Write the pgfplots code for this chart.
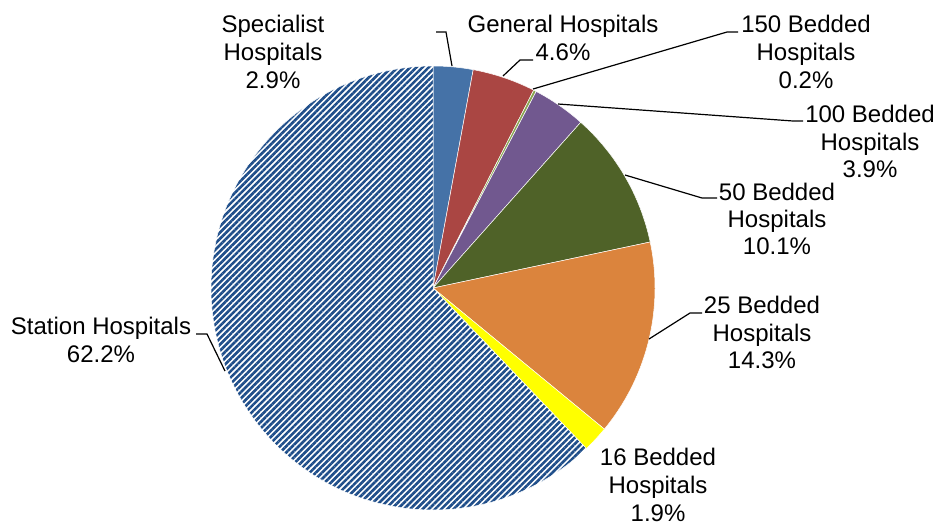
\documentclass[border=0pt]{standalone}
\usepackage{pgfplots}
\pgfplotsset{compat=1.18}
\usepackage{pgfplotstable}
\usepackage{fontspec}
\setmainfont{Liberation Sans}
\usetikzlibrary{patterns.meta}

\definecolor{cSpec}{HTML}{4572A7}
\definecolor{cGen}{HTML}{AA4643}
\definecolor{cOneFifty}{HTML}{89A54E}
\definecolor{cHundred}{HTML}{71588F}
\definecolor{cFifty}{HTML}{4F6228}
\definecolor{cTwentyFive}{HTML}{DB843D}
\definecolor{cSixteen}{HTML}{FFFF00}
\definecolor{cStation}{HTML}{1F4E8A}

\tikzset{
  pie0/.style={fill=cSpec},
  pie1/.style={fill=cGen},
  pie2/.style={fill=cOneFifty},
  pie3/.style={fill=cHundred},
  pie4/.style={fill=cFifty},
  pie5/.style={fill=cTwentyFive},
  pie6/.style={fill=cSixteen},
  pie7/.style={fill=white, pattern={Lines[angle=45, distance=2.2pt, line width=1.3pt]}, pattern color=cStation},
}

% share of beds, clockwise from 12 o'clock
\pgfplotstableread{
name        pct
Specialist  2.9
General     4.6
Bed150      0.2
Bed100      3.9
Bed50       10.1
Bed25       14.3
Bed16       1.9
Station     62.2
}\piedata

% wedge angles from the table, worked out before the axis
\pgfplotstablegetrowsof{\piedata}
\pgfmathtruncatemacro\nrows{\pgfplotsretval-1}
\gdef\pieA{90}
\foreach \i in {0,...,\nrows}{
  \pgfplotstablegetelem{\i}{pct}\of\piedata
  \pgfmathsetmacro\pieB{\pieA-\pgfplotsretval/100.1*360}
  \expandafter\xdef\csname pieStart\i\endcsname{\pieA}
  \expandafter\xdef\csname pieEnd\i\endcsname{\pieB}
  \global\let\pieA\pieB
}

\begin{document}
\begin{tikzpicture}[font=\fontsize{12}{14}\selectfont]
\begin{axis}[
  width=471pt, height=260.5pt, scale only axis,
  xmin=0, xmax=942, ymin=0, ymax=521, y dir=reverse,
  hide axis, clip=false,
]
\pgfplotsextra{
  \foreach \i in {0,...,\nrows}{
    \edef\wedge{\noexpand\path[pie\i, draw=white, line width=0.25pt]
      (axis cs:433,288) -- ++(\csname pieStart\i\endcsname:111pt)
      arc[start angle=\csname pieStart\i\endcsname, end angle=\csname pieEnd\i\endcsname, radius=111pt] -- cycle;}
    \wedge
  }
}

% leader lines
\draw[black, line width=0.6pt] (axis cs:436,32) -- (axis cs:446,32) -- (axis cs:452,66);
\draw[black, line width=0.6pt] (axis cs:503,76) -- (axis cs:520,60) -- (axis cs:533,60);
\draw[black, line width=0.6pt] (axis cs:533,89) -- (axis cs:727,32) -- (axis cs:738,32);
\draw[black, line width=0.6pt] (axis cs:558,104) -- (axis cs:793,121) -- (axis cs:803,121);
\draw[black, line width=0.6pt] (axis cs:625,175) -- (axis cs:702,198) -- (axis cs:717,198);
\draw[black, line width=0.6pt] (axis cs:649,339) -- (axis cs:690,313) -- (axis cs:702,313);
\draw[black, line width=0.6pt] (axis cs:196,334) -- (axis cs:207,334) -- (axis cs:225,371);

% labels
\node[anchor=base] at (axis cs:273,32) {Specialist};
\node[anchor=base] at (axis cs:273,60) {Hospitals};
\node[anchor=base] at (axis cs:273,88) {2.9\%};
\node[anchor=base] at (axis cs:563,32) {General Hospitals};
\node[anchor=base] at (axis cs:563,60) {4.6\%};
\node[anchor=base] at (axis cs:806,32) {150 Bedded};
\node[anchor=base] at (axis cs:806,60) {Hospitals};
\node[anchor=base] at (axis cs:806,88) {0.2\%};
\node[anchor=base] at (axis cs:870,122) {100 Bedded};
\node[anchor=base] at (axis cs:870,150) {Hospitals};
\node[anchor=base] at (axis cs:870,177) {3.9\%};
\node[anchor=base] at (axis cs:777,200) {50 Bedded};
\node[anchor=base] at (axis cs:777,227) {Hospitals};
\node[anchor=base] at (axis cs:777,254) {10.1\%};
\node[anchor=base] at (axis cs:762,313) {25 Bedded};
\node[anchor=base] at (axis cs:762,341) {Hospitals};
\node[anchor=base] at (axis cs:762,368) {14.3\%};
\node[anchor=base] at (axis cs:658,465) {16 Bedded};
\node[anchor=base] at (axis cs:658,493) {Hospitals};
\node[anchor=base] at (axis cs:658,521) {1.9\%};
\node[anchor=base] at (axis cs:101,334) {Station Hospitals};
\node[anchor=base] at (axis cs:101,362) {62.2\%};
\end{axis}
\pgfresetboundingbox
\path (current axis.south west) rectangle (current axis.north east);
\end{tikzpicture}
\end{document}
